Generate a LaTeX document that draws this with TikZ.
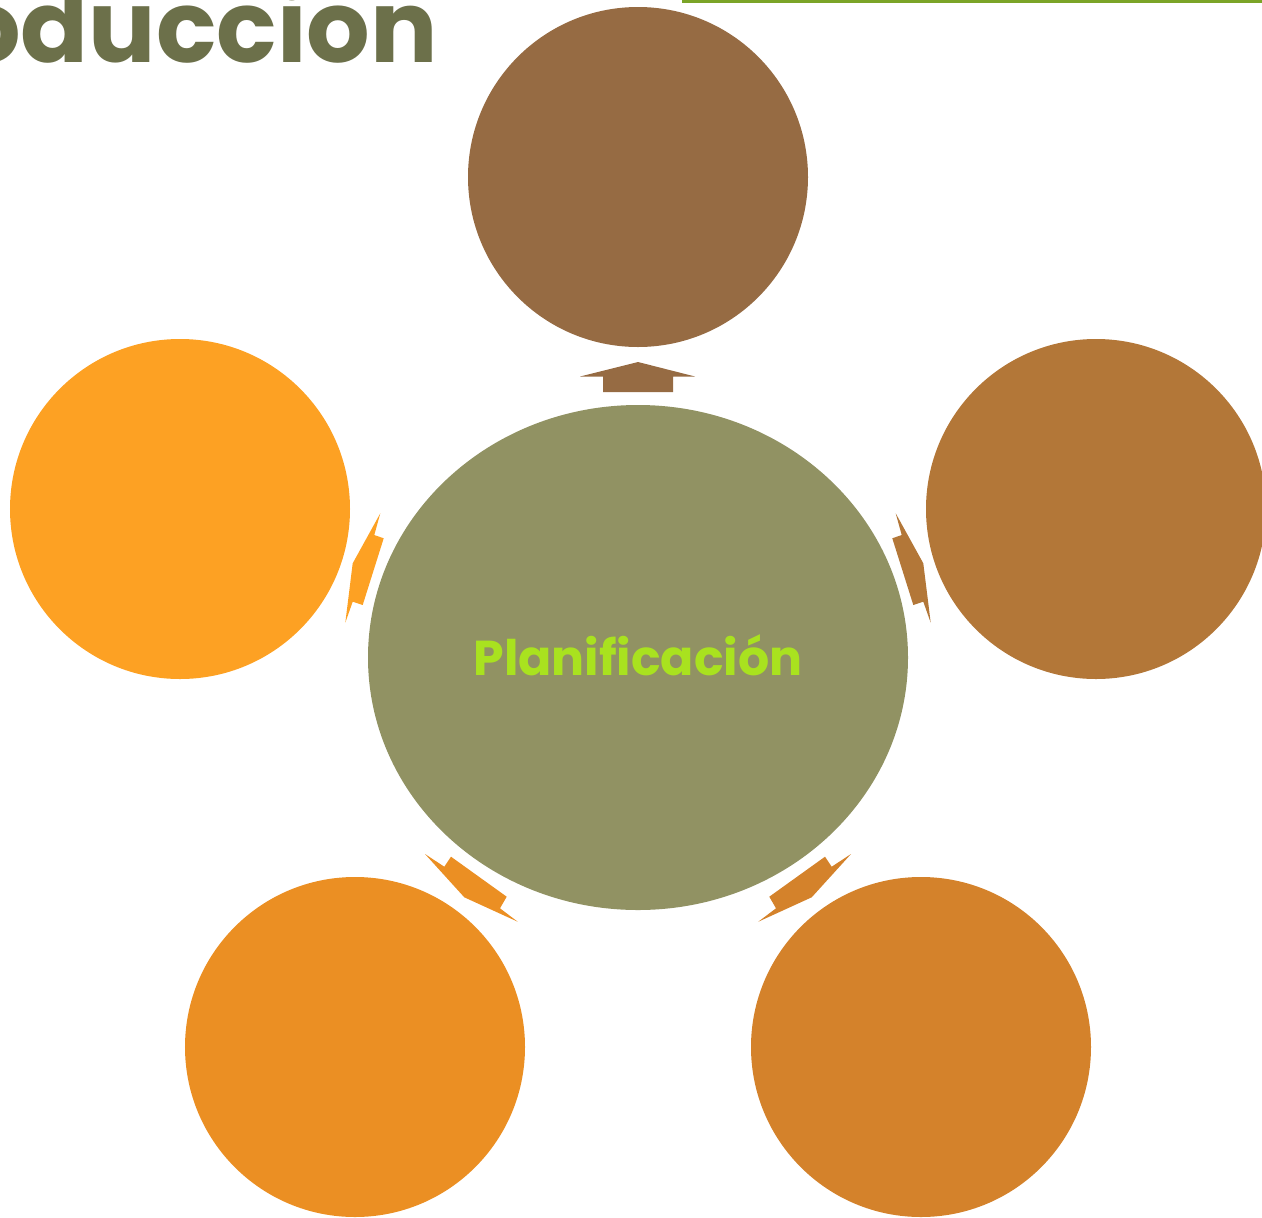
\documentclass[tikz,border=0pt]{standalone}
\usepackage{fontspec}
\newfontfamily\pop{Poppins}
\usetikzlibrary{shapes.geometric}
\definecolor{cTop}{HTML}{966B43}
\definecolor{cRight}{HTML}{B37738}
\definecolor{cBR}{HTML}{D4822B}
\definecolor{cBL}{HTML}{EB8F23}
\definecolor{cLeft}{HTML}{FDA123}
\definecolor{cCenter}{HTML}{919263}
\definecolor{cTitle}{HTML}{6C704A}
\definecolor{cLabel}{HTML}{A9E21F}
\definecolor{cLine}{HTML}{7BA428}
\tikzset{
  outer/.style={circle, minimum size=340bp, inner sep=0pt, draw=none, fill=#1},
  hub/.style={ellipse, minimum width=540bp, minimum height=505bp, inner sep=0pt, draw=none, fill=cCenter},
  arr/.style={fill=#1, draw=none},
}
\begin{document}
\begin{tikzpicture}[x=1bp,y=-1bp]
\useasboundingbox (0,0) rectangle (1262,1218);
% title fragment
\node[anchor=base east, inner sep=0pt, text=cTitle, font=\pop\bfseries\fontsize{100bp}{100bp}\selectfont] (title) at (438,62) {oduccion};
\draw[cLine, line width=3bp] (682,1.5) coordinate (l1) -- (1262,1.5) coordinate (l2);
% circles
\node[outer=cTop] (top) at (638,177) {};
\node[outer=cRight] (right) at (1096,509) {};
\node[outer=cLeft] (left) at (180,509) {};
\node[outer=cBL] (bl) at (355,1047) {};
\node[outer=cBR] (br) at (921,1047) {};
\node[hub] (hub) at (638,657.5) {};
\node[anchor=base, inner sep=0pt, text=cLabel, font=\pop\bfseries\fontsize{49bp}{49bp}\selectfont] (lbl) at (638,675) {Planificación};
% arrows
\fill[arr=cTop] (638,362) -- (695,376.5) -- (673,376.5) -- (673,392) -- (603,392) -- (603,376.5) -- (580,376.5) -- cycle;
\fill[arr=cRight] (895.7,513.3) -- (923.3,563.3) -- (930.7,622.7) -- (923.3,601.7) -- (913.3,605) -- (892.3,538.3) -- (901.7,535) -- cycle;
\fill[arr=cLeft] (380.3,513.3) -- (352.7,563.3) -- (345.3,622.7) -- (352.7,601.7) -- (362.7,605) -- (383.7,538.3) -- (374.3,535) -- cycle;
\fill[arr=cBR] (851,854) -- (811.7,897.3) -- (758.3,921.7) -- (776,908.3) -- (769.3,896.7) -- (825,856.7) -- (831.7,866.7) -- cycle;
\fill[arr=cBL] (425,854) -- (464.3,897.3) -- (517.7,921.7) -- (500,908.3) -- (506.7,896.7) -- (451,856.7) -- (444.3,866.7) -- cycle;
\end{tikzpicture}
\end{document}
